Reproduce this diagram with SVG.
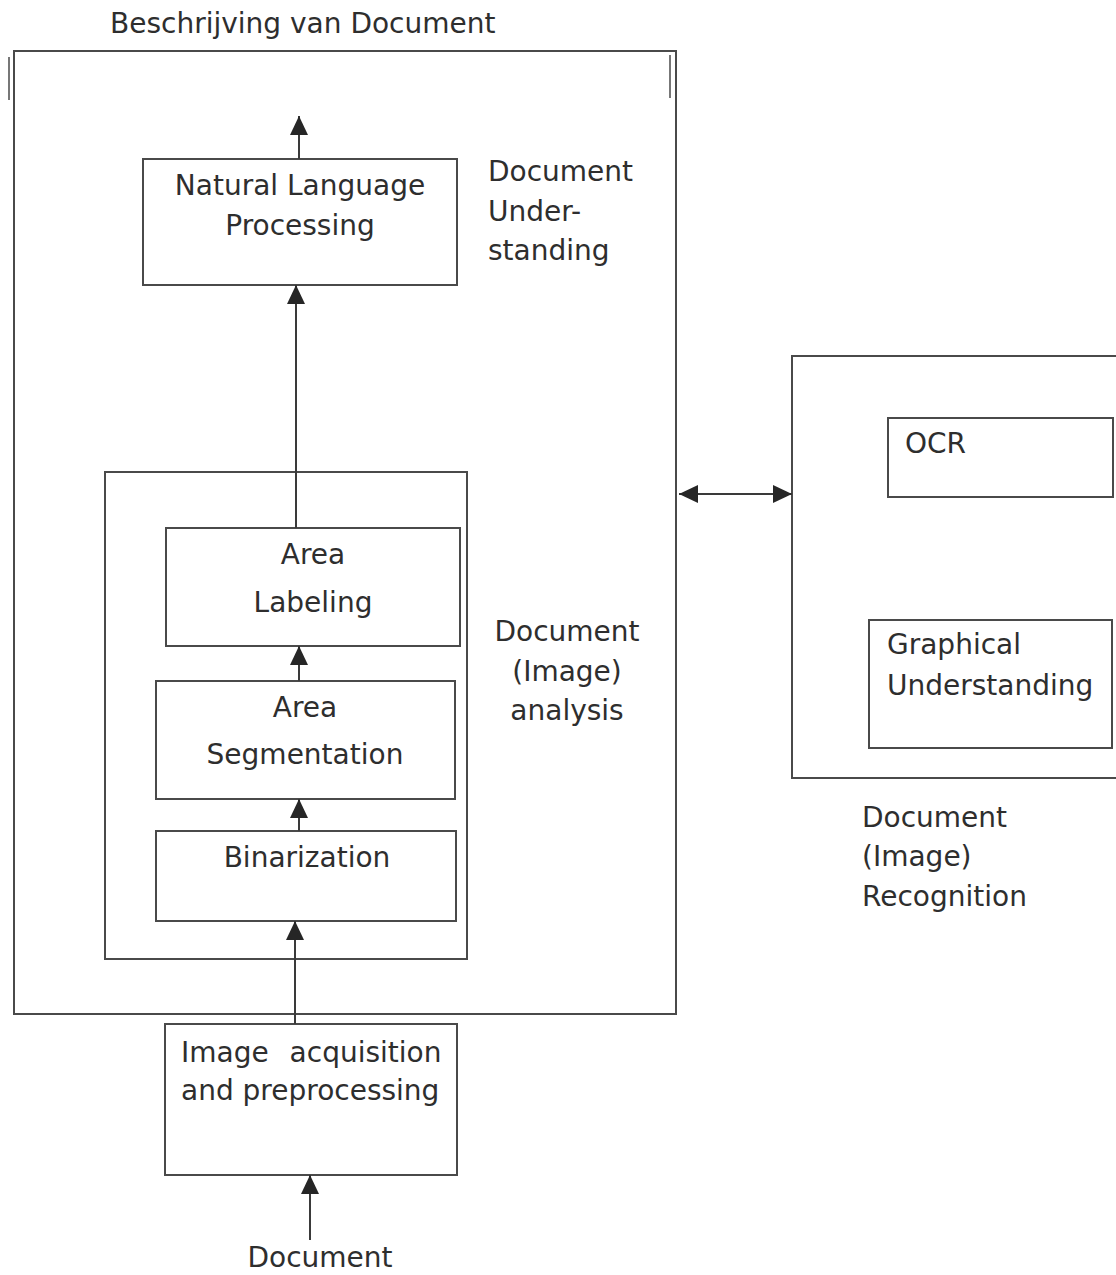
<svg xmlns="http://www.w3.org/2000/svg" width="1116" height="1275" viewBox="0 0 1116 1275">
<defs>
<style>
.box{fill:none;stroke:#4a4a4a;stroke-width:2}
.line{fill:none;stroke:#3a3a3a;stroke-width:2}
.t{font-family:"DejaVu Sans",Verdana,sans-serif;font-size:28px;fill:#2e2e2e}
.c{text-anchor:middle}
.art{stroke:#777;stroke-width:2}
</style>
<marker id="ah" markerUnits="userSpaceOnUse" markerWidth="20" markerHeight="18" refX="19" refY="9" orient="auto-start-reverse">
<path d="M0,0 L19,9 L0,18 z" fill="#262626"/>
</marker>
</defs>
<rect width="1116" height="1275" fill="#ffffff"/>

<g id="title"><text class="t" x="110" y="33">Beschrijving van Document</text></g>

<g id="outer-box">
<rect class="box" x="14" y="51" width="662" height="963"/>
<line class="art" x1="9" y1="57" x2="9" y2="100"/>
<line class="art" x1="670" y1="55" x2="670" y2="98"/>
</g>

<g id="nlp">
<rect class="box" x="143" y="159" width="314" height="126"/>
<text class="t c" x="300" y="195">Natural Language</text>
<text class="t c" x="300" y="235">Processing</text>
</g>

<g id="label-understanding">
<text class="t" x="488" y="181">Document</text>
<text class="t" x="488" y="221">Under-</text>
<text class="t" x="488" y="260">standing</text>
</g>

<g id="analysis-box"><rect class="box" x="105" y="472" width="362" height="487"/></g>

<g id="area-labeling">
<rect class="box" x="166" y="528" width="294" height="118"/>
<text class="t c" x="313" y="564">Area</text>
<text class="t c" x="313" y="612">Labeling</text>
</g>

<g id="area-segmentation">
<rect class="box" x="156" y="681" width="299" height="118"/>
<text class="t c" x="305" y="717">Area</text>
<text class="t c" x="305" y="764">Segmentation</text>
</g>

<g id="binarization">
<rect class="box" x="156" y="831" width="300" height="90"/>
<text class="t c" x="307" y="867">Binarization</text>
</g>

<g id="label-analysis">
<text class="t c" x="567" y="641">Document</text>
<text class="t c" x="567" y="681">(Image)</text>
<text class="t c" x="567" y="720">analysis</text>
</g>

<g id="acquisition">
<rect class="box" x="165" y="1024" width="292" height="151"/>
<text class="t" x="181" y="1062" word-spacing="12">Image acquisition</text>
<text class="t" x="181" y="1100">and preprocessing</text>
</g>

<g id="document-input"><text class="t c" x="320" y="1267">Document</text></g>

<g id="recognition-box"><rect class="box" x="792" y="356" width="340" height="422"/></g>

<g id="ocr">
<rect class="box" x="888" y="418" width="225" height="79"/>
<text class="t" x="905" y="453">OCR</text>
</g>

<g id="graphical">
<rect class="box" x="869" y="620" width="243" height="128"/>
<text class="t" x="887" y="654">Graphical</text>
<text class="t" x="887" y="695">Understanding</text>
</g>

<g id="label-recognition">
<text class="t" x="862" y="827">Document</text>
<text class="t" x="862" y="866">(Image)</text>
<text class="t" x="862" y="906">Recognition</text>
</g>

<g id="connectors">
<line class="line" x1="299" y1="159" x2="299" y2="116" marker-end="url(#ah)"/>
<line class="line" x1="296" y1="528" x2="296" y2="285" marker-end="url(#ah)"/>
<line class="line" x1="299" y1="681" x2="299" y2="646" marker-end="url(#ah)"/>
<line class="line" x1="299" y1="831" x2="299" y2="799" marker-end="url(#ah)"/>
<line class="line" x1="295" y1="1024" x2="295" y2="921" marker-end="url(#ah)"/>
<line class="line" x1="310" y1="1240" x2="310" y2="1175" marker-end="url(#ah)"/>
<line class="line" x1="679" y1="494" x2="792" y2="494" marker-start="url(#ah)" marker-end="url(#ah)"/>
</g>
</svg>
